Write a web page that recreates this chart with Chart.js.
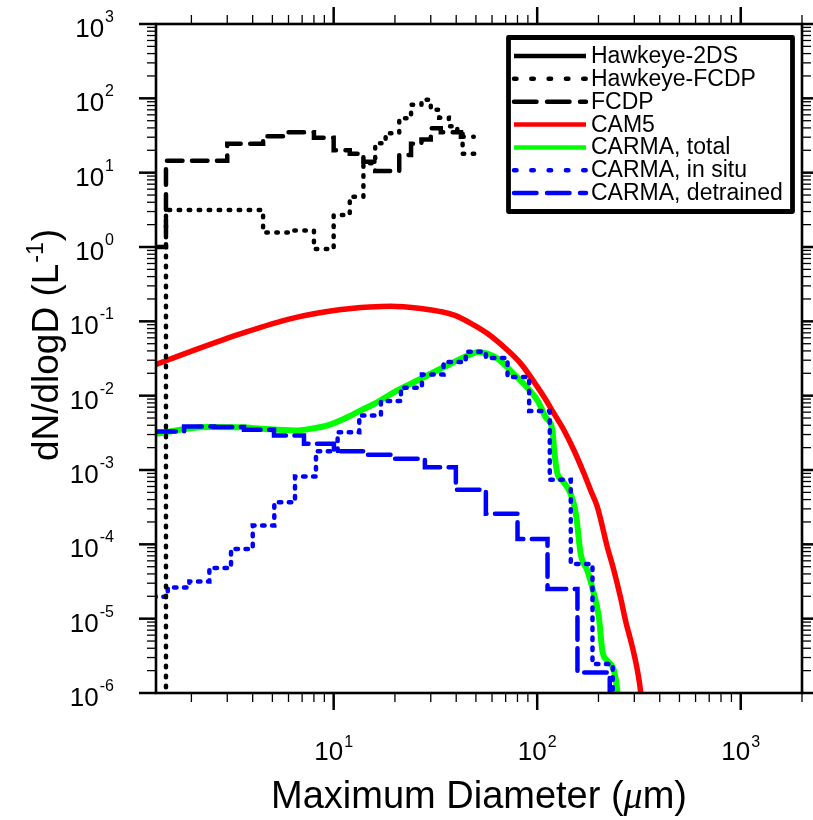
<!DOCTYPE html>
<html><head><meta charset="utf-8">
<script src="https://cdn.jsdelivr.net/npm/chart.js@4.4.1/dist/chart.umd.min.js"></script>
<style>html,body{margin:0;padding:0;background:#fff}canvas{display:block}</style>
</head><body>
<canvas id="c" width="813" height="820"></canvas>
<script>
// ---------------- data ----------------
const seriesNames = ['Hawkeye-2DS','Hawkeye-FCDP','FCDP','CAM5','CARMA, total','CARMA, in situ','CARMA, detrained'];

// Hawkeye-2DS: no visible trace in the plotted range
const hk2dsD = [];
const hk2dsN = [];

// Hawkeye-FCDP (step histogram: left bin edge, value; last entry = right edge)
const hkFcdpD = [1.5, 1.5, 4.5, 6.0, 8.0, 10.0, 12.0, 14.0, 16.0, 18.0, 21.0, 24.0, 27.0, 30.0, 33.0, 36.8, 40.5, 43.0, 50.0];
const hkFcdpN = [1e-7, 3.14, 1.57, 1.67, 0.94, 2.69, 4.75, 13.4, 24.9, 34, 54, 81.7, 95.5, 70, 55, 42, 36, 18, 18];

// FCDP
const fcdpD = [1.30, 1.5, 3.0, 4.5, 6.0, 8.0, 10.0, 12.0, 14.0, 16.0, 21.0, 24.0, 27.0, 30.0, 33.6, 42.2, 48.8];
const fcdpN = [1.0, 14.5, 24.4, 31, 35, 29.6, 20, 18, 14, 10.5, 17.3, 24.4, 28, 39.7, 35, 30.5, 30.5];

// CAM5 (fine bins, drawn as a curve)
const cam5D = [1.30, 1.99, 3.51, 6.18, 10.86, 15.0, 19.1, 26.8, 33.6, 39.1, 47.2, 57.0, 71.5, 83.1, 93.0, 108.1, 121, 135.6, 151.7, 170, 183.2, 197.7, 221.3, 238.5, 257, 272, 293.8, 310.8, 322.6, 330];
const cam5N = [0.0255, 0.0395, 0.0684, 0.109, 0.144, 0.156, 0.16, 0.149, 0.135, 0.121, 0.094, 0.0685, 0.0408, 0.027, 0.0178, 9.57e-3, 5.72e-3, 3.4e-3, 1.83e-3, 8.9e-4, 5.3e-4, 3.16e-4, 9.1e-5, 4.4e-5, 1.9e-5, 9.3e-6, 4.1e-6, 2.0e-6, 1.0e-6, 4e-7];

// CARMA, total
const totD = [1.30, 2.41, 3.51, 4.40, 6.41, 7.74, 9.34, 11.27, 13.6, 16.44, 19.84, 23.96, 28.94, 34.9, 42.2, 49.0, 51.0, 63.9, 76.7, 89.7, 100.3, 110.2, 118.9, 121.2, 125.8, 133, 146, 155, 163.6, 176.6, 190, 201, 209, 221, 238.5, 248, 252];
const totN = [3.05e-3, 3.78e-3, 3.75e-3, 3.59e-3, 3.40e-3, 3.59e-3, 3.98e-3, 4.90e-3, 6.34e-3, 8.2e-3, 0.0112, 0.0145, 0.0188, 0.0243, 0.0315, 0.0375, 0.0387, 0.0315, 0.0196, 0.0127, 8.65e-3, 5.1e-3, 3.4e-3, 1.83e-3, 8.9e-4, 7.2e-4, 4.78e-4, 2.57e-4, 7.4e-5, 4.4e-5, 2.15e-5, 1.04e-5, 3.69e-6, 2.71e-6, 1.99e-6, 1.0e-6, 5e-7];

// CARMA, in situ (step histogram)
const insituD = [1.30, 1.531, 1.955, 2.451, 3.131, 4.003, 5.109, 6.457, 8.186, 10.46, 13.36, 17.07, 21.4, 27.14, 34.67, 44.6, 55.95, 71.5, 91.3, 115.3, 146.2, 186.9, 235];
const insituN = [1.97e-5, 2.63e-5, 3.17e-5, 4.81e-5, 8.67e-5, 1.79e-4, 3.68e-4, 8.17e-4, 1.79e-3, 3.23e-3, 5.43e-3, 8.45e-3, 0.0128, 0.0192, 0.0284, 0.0390, 0.0320, 0.0178, 6.2e-3, 7.4e-4, 5.44e-5, 2.45e-6, 1e-7];

// CARMA, detrained (step histogram)
const detrD = [1.30, 1.841, 2.585, 3.627, 5.092, 7.148, 10.03, 14.08, 20.0, 28.07, 39.84, 55.95, 80.05, 112.4, 157.7, 227.2];
const detrN = [3.30e-3, 3.85e-3, 3.78e-3, 3.48e-3, 2.92e-3, 2.25e-3, 1.79e-3, 1.60e-3, 1.42e-3, 1.09e-3, 5.41e-4, 2.57e-4, 1.18e-4, 2.5e-5, 1.88e-6, 1e-7];

// axes
const xRange = [1.34, 2000];
const yRange = [1e-6, 1e3];
const xLabelExps = [1, 2, 3];
const yLabelExps = [-6, -5, -4, -3, -2, -1, 0, 1, 2, 3];
const xTitle = ['Maximum Diameter (', '\u03bc', 'm)'];
const yTitle = ['dN/dlogD (L', '-1', ')'];

// ---------------- chart ----------------
const pts = (xs, ys) => xs.map((x, i) => ({x: x, y: ys[i]}));
const FONT = '"Liberation Sans", Arial, Helvetica, sans-serif';

const datasets = [
  {label: seriesNames[0], data: pts(hk2dsD, hk2dsN), borderColor: '#000000', borderWidth: 4.5, stepped: 'before', order: 0, legendDash: []},
  {label: seriesNames[1], data: pts(hkFcdpD, hkFcdpN), borderColor: '#000000', borderWidth: 4.5, stepped: 'before', borderDash: [1.5, 8.5], borderCapStyle: 'round', order: 0, legendDash: [2.5, 14.8]},
  {label: seriesNames[2], data: pts(fcdpD, fcdpN), borderColor: '#000000', borderWidth: 4.5, stepped: 'before', borderDash: [15.5, 9.5], borderCapStyle: 'round', order: 0, legendDash: [22.5, 10.5]},
  {label: seriesNames[3], data: pts(cam5D, cam5N), borderColor: '#ff0000', borderWidth: 5.5, cubicInterpolationMode: 'monotone', order: 3, legendDash: []},
  {label: seriesNames[4], data: pts(totD, totN), borderColor: '#00ff00', borderWidth: 6, cubicInterpolationMode: 'monotone', order: 4, legendDash: []},
  {label: seriesNames[5], data: pts(insituD, insituN), borderColor: '#0000ff', borderWidth: 4.5, stepped: 'before', borderDash: [2.5, 7.5], borderCapStyle: 'round', order: 1, legendDash: [2.5, 14.8]},
  {label: seriesNames[6], data: pts(detrD, detrN), borderColor: '#0000ff', borderWidth: 4.5, stepped: 'before', borderDash: [22.5, 8.5], borderCapStyle: 'round', order: 2, legendDash: [22.5, 10.5]}
];
datasets.forEach(d => { d.showLine = true; d.pointRadius = 0; d.pointHoverRadius = 0; d.fill = false; d.clip = 0; d.borderJoinStyle = 'miter'; });

function line(ctx, x1, y1, x2, y2) { ctx.beginPath(); ctx.moveTo(x1, y1); ctx.lineTo(x2, y2); ctx.stroke(); }

function drawPow(ctx, exp, x, yBase, align, baseSize, expSize, rise) {
  ctx.font = baseSize + 'px ' + FONT;
  const w1 = ctx.measureText('10').width;
  ctx.font = expSize + 'px ' + FONT;
  const es = String(exp);
  const w2 = ctx.measureText(es).width;
  const total = w1 + 1 + w2;
  let x0 = align === 'center' ? x - total / 2 : x - total;
  ctx.textAlign = 'left'; ctx.textBaseline = 'alphabetic';
  ctx.font = baseSize + 'px ' + FONT;
  ctx.fillText('10', x0, yBase);
  ctx.font = expSize + 'px ' + FONT;
  ctx.fillText(es, x0 + w1 + 1, yBase - rise);
}

const decor = {
  id: 'nclDecor',
  afterDraw(chart) {
    const ctx = chart.ctx, a = chart.chartArea, xs = chart.scales.x, ys = chart.scales.y;
    ctx.save();
    ctx.setLineDash([]);
    ctx.strokeStyle = '#000'; ctx.fillStyle = '#000'; ctx.lineCap = 'butt';
    // ticks on all four sides (outward)
    for (let e = 0; e <= 3; e++) for (let m = 1; m <= 9; m++) {
      const v = m * Math.pow(10, e);
      if (v < xRange[0] * 0.9999 || v > xRange[1] * 1.0001) continue;
      const px = xs.getPixelForValue(v);
      const major = m === 1, L = major ? 17 : 9;
      ctx.lineWidth = major ? 2.5 : 1.3;
      line(ctx, px, a.bottom, px, a.bottom + L);
      line(ctx, px, a.top, px, a.top - L);
    }
    for (let e = -6; e <= 3; e++) for (let m = 1; m <= 9; m++) {
      const v = m * Math.pow(10, e);
      if (v > yRange[1] * 1.0001) continue;
      const py = ys.getPixelForValue(v);
      const major = m === 1, L = major ? 17 : 9;
      ctx.lineWidth = major ? 2.5 : 1.3;
      line(ctx, a.left, py, a.left - L, py);
      line(ctx, a.right, py, a.right + L, py);
    }
    // frame
    ctx.lineWidth = 2.6;
    ctx.strokeRect(a.left, a.top, a.right - a.left, a.bottom - a.top);
    // tick labels
    xLabelExps.forEach(e => drawPow(ctx, e, xs.getPixelForValue(Math.pow(10, e)), 760, 'center', 26, 16, 13));
    yLabelExps.forEach(e => drawPow(ctx, e, 114, ys.getPixelForValue(Math.pow(10, e)) + 13, 'right', 26, 16, 15));
    // x title
    ctx.textBaseline = 'alphabetic'; ctx.textAlign = 'left';
    const tf = '38px ' + FONT, mf = 'italic 38px "Liberation Serif", serif';
    ctx.font = tf; const t1 = ctx.measureText(xTitle[0]).width, t3 = ctx.measureText(xTitle[2]).width;
    ctx.font = mf; const t2 = ctx.measureText(xTitle[1]).width;
    let x0 = (a.left + a.right) / 2 - (t1 + t2 + t3) / 2;
    ctx.font = tf; ctx.fillText(xTitle[0], x0, 808);
    ctx.font = mf; ctx.fillText(xTitle[1], x0 + t1, 808);
    ctx.font = tf; ctx.fillText(xTitle[2], x0 + t1 + t2, 808);
    // y title (rotated)
    ctx.save();
    ctx.translate(58, 345); ctx.rotate(-Math.PI / 2);
    const yf = '37px ' + FONT;
    ctx.font = yf; const y1w = ctx.measureText(yTitle[0]).width, y3w = ctx.measureText(yTitle[2]).width;
    ctx.font = '23px ' + FONT; const y2w = ctx.measureText(yTitle[1]).width;
    let s = -(y1w + y2w + y3w + 2) / 2;
    ctx.font = yf; ctx.fillText(yTitle[0], s, 0);
    ctx.font = '23px ' + FONT; ctx.fillText(yTitle[1], s + y1w + 1, -15);
    ctx.font = yf; ctx.fillText(yTitle[2], s + y1w + y2w + 2, 0);
    ctx.restore();
    // legend
    const bx = 508.5, by = 37.5, bw = 284, bh = 174;
    ctx.fillStyle = '#fff'; ctx.fillRect(bx, by, bw, bh);
    ctx.lineWidth = 4.8; ctx.strokeStyle = '#000'; ctx.lineJoin = 'round';
    ctx.strokeRect(bx, by, bw, bh);
    chart.data.datasets.forEach((d, i) => {
      const ry = 56 + i * 22.85;
      ctx.save();
      ctx.strokeStyle = d.borderColor; ctx.lineWidth = 4.5;
      ctx.lineCap = d.legendDash.length ? 'round' : 'butt';
      ctx.setLineDash(d.legendDash);
      line(ctx, 514, ry, 586, ry);
      ctx.restore();
      ctx.fillStyle = '#000'; ctx.font = '23px ' + FONT; ctx.textAlign = 'left'; ctx.textBaseline = 'alphabetic';
      ctx.fillText(d.label, 591, ry + 7);
    });
    ctx.restore();
  }
};

new Chart(document.getElementById('c'), {
  type: 'scatter',
  data: {datasets: datasets},
  options: {
    responsive: false,
    animation: false,
    devicePixelRatio: 1,
    layout: {padding: {left: 156, right: 11, top: 24, bottom: 127}},
    scales: {
      x: {type: 'logarithmic', min: xRange[0], max: xRange[1], display: false},
      y: {type: 'logarithmic', min: yRange[0], max: yRange[1], display: false}
    },
    plugins: {legend: {display: false}, tooltip: {enabled: false}}
  },
  plugins: [decor]
});
</script>
</body></html>
